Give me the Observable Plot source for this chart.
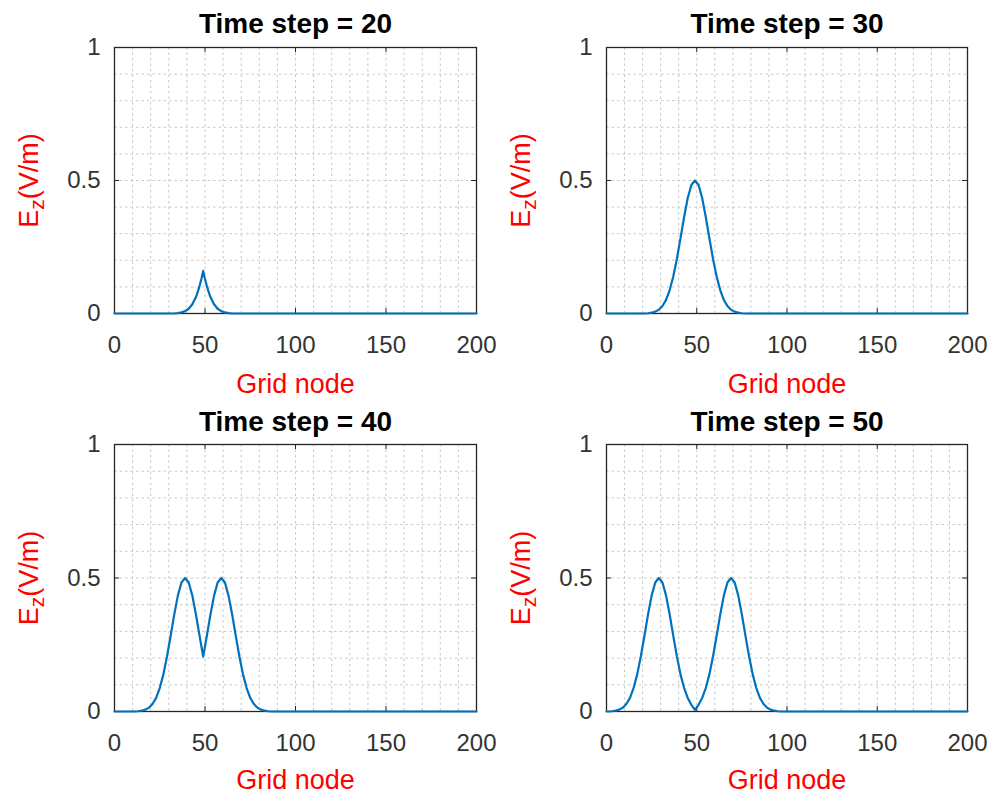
<!DOCTYPE html>
<html>
<head>
<meta charset="utf-8">
<script src="https://cdn.jsdelivr.net/npm/d3@7"></script>
<script src="https://cdn.jsdelivr.net/npm/@observablehq/plot@0.6"></script>
<style>
  body { margin: 0; background: #ffffff; }
  #fig { position: relative; width: 993px; height: 794px; background: #ffffff; overflow: hidden; }
  .panel { position: absolute; }
</style>
</head>
<body>
<div id="fig"></div>
<script>
// ---------- data ----------
const timeSteps = [20, 30, 40, 50];

const nodes20 = [0, 33, 35, 37, 39, 41, 43, 45, 46, 47, 48, 49, 50, 51, 52, 53, 55, 57, 59, 61, 63, 65, 200];
const ez20    = [0, 0, 0.0015, 0.004, 0.009, 0.018, 0.035, 0.062, 0.081, 0.104, 0.13, 0.16, 0.13, 0.104, 0.081, 0.062, 0.035, 0.018, 0.009, 0.004, 0.0015, 0, 0];

const nodes30 = [0, 21, 23, 25, 27, 29, 31, 33, 35, 37, 39, 41, 43, 45, 47, 49, 51, 53, 55, 57, 59, 61, 63, 65, 67, 69, 71, 73, 75, 77, 200];
const ez30    = [0, 0, 0.001, 0.003, 0.007, 0.014, 0.028, 0.051, 0.088, 0.139, 0.206, 0.283, 0.363, 0.434, 0.483, 0.5, 0.483, 0.434, 0.363, 0.283, 0.206, 0.139, 0.088, 0.051, 0.028, 0.014, 0.007, 0.003, 0.001, 0, 0];

const nodes40 = [0, 11, 13, 15, 17, 19, 21, 23, 25, 27, 29, 31, 33, 35, 37, 39, 41, 43, 45, 47, 49,
                 51, 53, 55, 57, 59, 61, 63, 65, 67, 69, 71, 73, 75, 77, 79, 81, 83, 85, 87, 200];
const ez40    = [0, 0, 0.001, 0.003, 0.007, 0.014, 0.028, 0.051, 0.088, 0.139, 0.206, 0.283, 0.363, 0.434, 0.483, 0.5, 0.483, 0.434, 0.363, 0.283, 0.206,
                 0.283, 0.363, 0.434, 0.483, 0.5, 0.483, 0.434, 0.363, 0.283, 0.206, 0.139, 0.088, 0.051, 0.028, 0.014, 0.007, 0.003, 0.001, 0, 0];

const nodes50 = [0, 1, 3, 5, 7, 9, 11, 13, 15, 17, 19, 21, 23, 25, 27, 29, 31, 33, 35, 37, 39, 41, 43, 45, 47, 49,
                 51, 53, 55, 57, 59, 61, 63, 65, 67, 69, 71, 73, 75, 77, 79, 81, 83, 85, 87, 89, 91, 93, 95, 97, 200];
const ez50    = [0, 0, 0.001, 0.003, 0.007, 0.014, 0.028, 0.051, 0.088, 0.139, 0.206, 0.283, 0.363, 0.434, 0.483, 0.5, 0.483, 0.434, 0.363, 0.283, 0.206, 0.139, 0.088, 0.051, 0.025, 0.006,
                 0.025, 0.051, 0.088, 0.139, 0.206, 0.283, 0.363, 0.434, 0.483, 0.5, 0.483, 0.434, 0.363, 0.283, 0.206, 0.139, 0.088, 0.051, 0.028, 0.014, 0.007, 0.003, 0.001, 0, 0];

const xTicks = [0, 50, 100, 150, 200];
const yTicks = [0, 0.5, 1];
const xGrid = [0, 10, 20, 30, 40, 50, 60, 70, 80, 90, 100, 110, 120, 130, 140, 150, 160, 170, 180, 190, 200];
const yGrid = [0, 0.1, 0.2, 0.3, 0.4, 0.5, 0.6, 0.7, 0.8, 0.9, 1];
const xLabel = "Grid node";
const yLabelParts = ["E", "z", "(V/m)"];
const titlePrefix = "Time step = ";

// ---------- layout / style ----------
const FONT = "'Liberation Sans', Arial, Helvetica, sans-serif";
const W = 496, H = 397;
const layout = [
  { left: 0,   top: 0,   mL: 114, mR: 20, mT: 47, mB: 84, dyTitle: -15, dyX: 79 },
  { left: 496, top: 0,   mL: 110, mR: 25, mT: 47, mB: 84, dyTitle: -15, dyX: 79 },
  { left: 0,   top: 397, mL: 114, mR: 20, mT: 47, mB: 83, dyTitle: -14, dyX: 77 },
  { left: 496, top: 397, mL: 110, mR: 25, mT: 47, mB: 83, dyTitle: -14, dyX: 77 }
];
const series = [[nodes20, ez20], [nodes30, ez30], [nodes40, ez40], [nodes50, ez50]];

const fig = document.getElementById("fig");
const placeholder = yLabelParts.join("");

timeSteps.forEach((t, i) => {
  const L = layout[i];
  const [nodes, ez] = series[i];
  const data = nodes.map((n, k) => ({ node: n, ez: ez[k] }));
  const pw = W - L.mL - L.mR, ph = H - L.mT - L.mB;
  const gridStyle = { stroke: "#c8c8c8", strokeOpacity: 1, strokeWidth: 1, strokeDasharray: "2.5,3" };
  const chart = Plot.plot({
    width: W, height: H,
    marginLeft: L.mL, marginRight: L.mR, marginTop: L.mT, marginBottom: L.mB,
    style: { fontFamily: FONT, background: "transparent", overflow: "visible" },
    x: { domain: [0, 200] },
    y: { domain: [0, 1] },
    marks: [
      Plot.gridX(xGrid, gridStyle),
      Plot.gridY(yGrid, gridStyle),
      Plot.tickX(xTicks, { x: d => d, stroke: "#262626", strokeWidth: 1, insetTop: ph - 5 }),
      Plot.tickX(xTicks, { x: d => d, stroke: "#262626", strokeWidth: 1, insetBottom: ph - 5 }),
      Plot.tickY(yTicks, { y: d => d, stroke: "#262626", strokeWidth: 1, insetRight: pw - 5 }),
      Plot.tickY(yTicks, { y: d => d, stroke: "#262626", strokeWidth: 1, insetLeft: pw - 5 }),
      Plot.axisX(xTicks, { tickSize: 0, tickPadding: 22, fontSize: 24, fill: "#333333", label: null, tickFormat: d => String(d) }),
      Plot.axisY(yTicks, { tickSize: 0, tickPadding: 14, fontSize: 24, fill: "#333333", label: null, tickFormat: d => String(d) }),
      Plot.frame({ stroke: "#262626", strokeWidth: 1.3 }),
      Plot.line(data, { x: "node", y: "ez", stroke: "#0072BD", strokeWidth: 2.2 }),
      Plot.text([titlePrefix + t], { text: d => d, frameAnchor: "top", textAnchor: "middle", dy: L.dyTitle, lineAnchor: "bottom", fontSize: 28, fontWeight: "bold", fill: "#000000" }),
      Plot.text([xLabel], { text: d => d, frameAnchor: "bottom", textAnchor: "middle", dy: L.dyX, lineAnchor: "bottom", fontSize: 27, fill: "#ff0000" }),
      Plot.text([placeholder], { text: d => d, frameAnchor: "left", textAnchor: "middle", dx: -77, rotate: -90, lineAnchor: "bottom", fontSize: 27, fill: "#ff0000" })
    ]
  });
  // subscript for E_z
  chart.querySelectorAll("text").forEach(el => {
    if (el.textContent === placeholder) {
      while (el.firstChild) el.removeChild(el.firstChild);
      const ns = "http://www.w3.org/2000/svg";
      const a = document.createElementNS(ns, "tspan"); a.textContent = yLabelParts[0];
      const b = document.createElementNS(ns, "tspan"); b.textContent = yLabelParts[1];
      b.setAttribute("dy", "0.3em"); b.setAttribute("font-size", "0.78em");
      const c = document.createElementNS(ns, "tspan"); c.textContent = yLabelParts[2];
      c.setAttribute("dy", "-0.234em");
      el.appendChild(a); el.appendChild(b); el.appendChild(c);
    }
  });
  const div = document.createElement("div");
  div.className = "panel";
  div.style.left = L.left + "px";
  div.style.top = L.top + "px";
  div.appendChild(chart);
  fig.appendChild(div);
});
</script>
</body>
</html>
